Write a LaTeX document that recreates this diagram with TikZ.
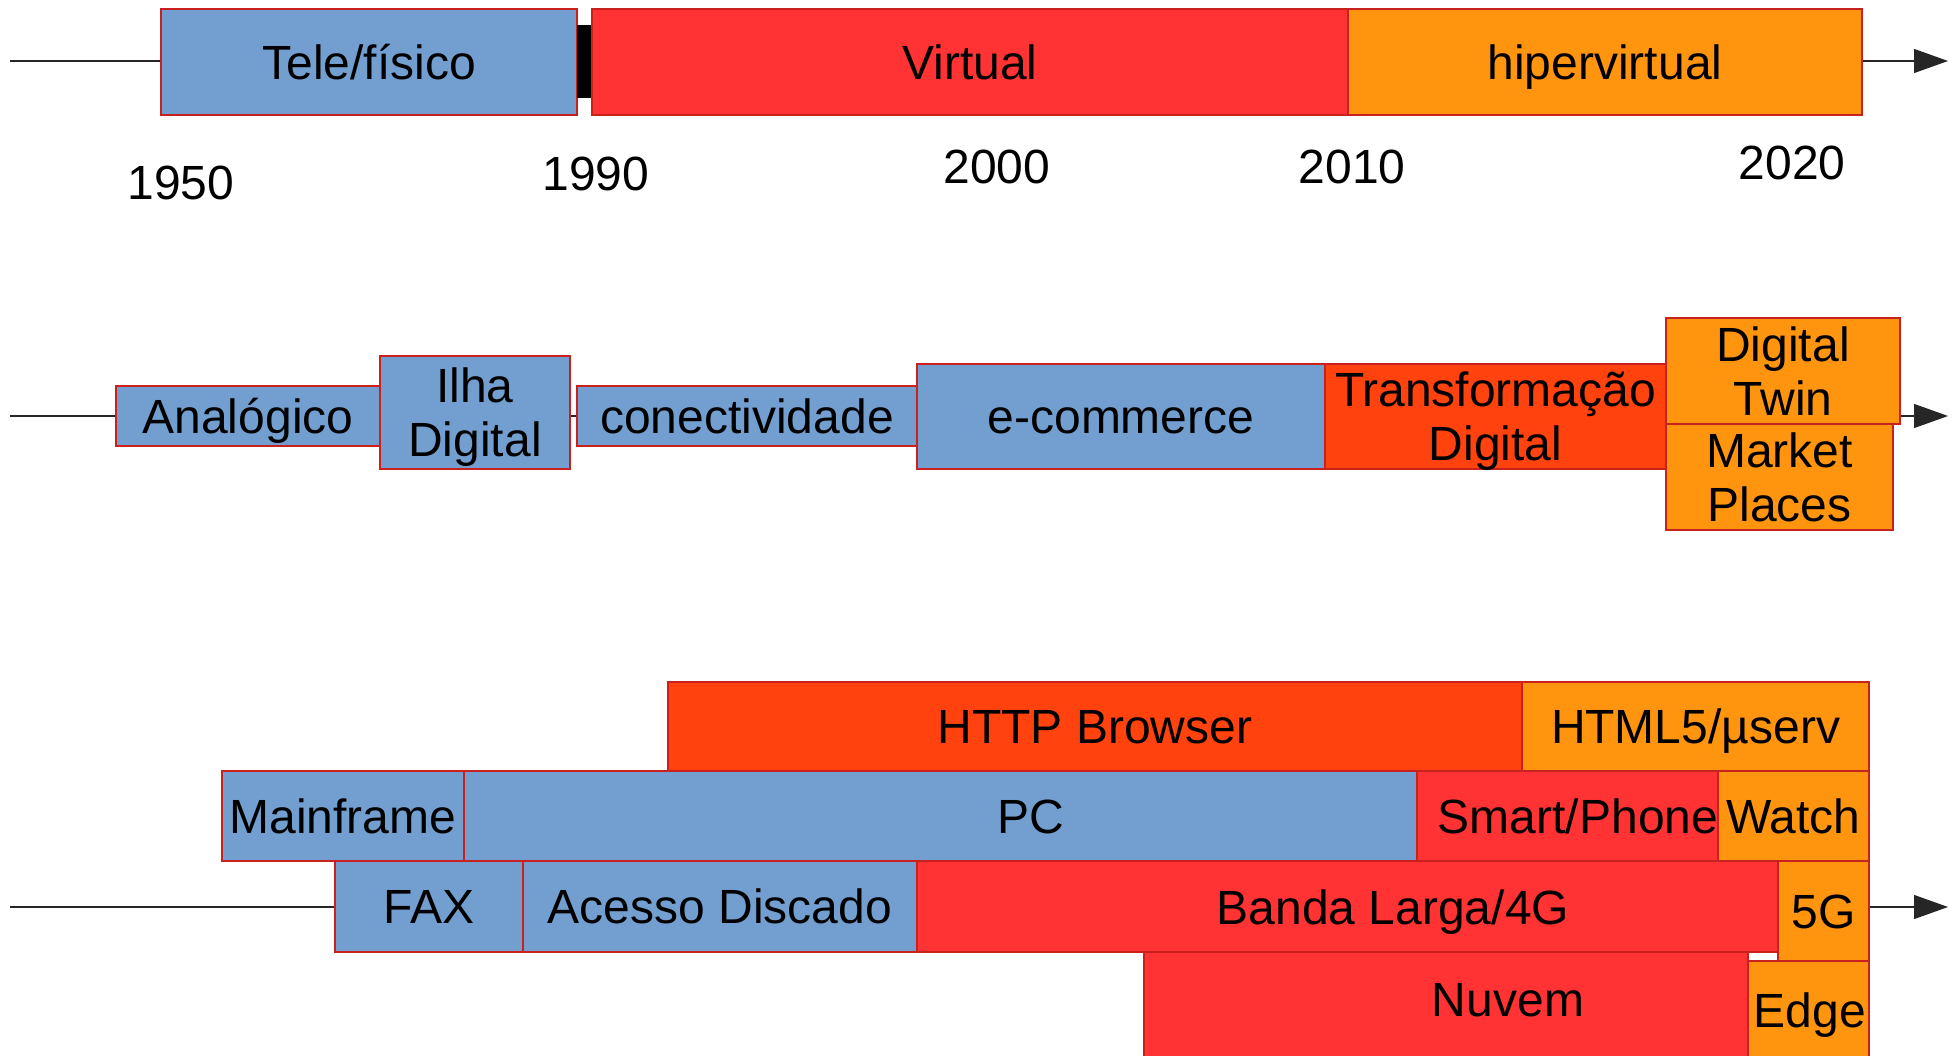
\documentclass[tikz,border=0pt]{standalone}
\usepackage{fontspec}
\setmainfont{Liberation Sans}
\usetikzlibrary{arrows.meta}
\definecolor{cblue}{HTML}{729FCF}
\definecolor{cred}{HTML}{FF3333}
\definecolor{corange}{HTML}{FF950E}
\definecolor{cdark}{HTML}{FF420E}
\definecolor{cborder}{HTML}{C9211E}
\newcommand\tstrut{\rule[-0.29em]{0pt}{1.29em}}
\tikzset{
  box/.style={draw=cborder, line width=1.2pt, inner sep=0pt, outer sep=0pt, anchor=north west},
  lbl/.style={inner sep=0pt, align=center, execute at begin node=\tstrut, execute at end node=\tstrut},
  twoline/.style={yshift=-7pt},
  axis/.style={draw=black!85, line width=1.2pt, -{Triangle[length=34pt,width=24pt]}}
}
% [label options] name, x1, y1, x2, y2, colour, text (centred in the box)
\newcommand\bx[8][]{\node[box, fill=#7, minimum width={(#5-#3)*1pt}, minimum height={(#6-#4)*1pt}] (#2) at (#3pt,-#4pt) {};
  \node[lbl,#1] (#2T) at (#2.center) {#8};}
% same box, text placed at given point
\newcommand\bxat[9]{\node[box, fill=#6, minimum width={(#4-#2)*1pt}, minimum height={(#5-#3)*1pt}] (#1) at (#2pt,-#3pt) {};
  \node[lbl] (#1T) at (#8pt,-#9pt) {#7};}
\begin{document}
\begin{tikzpicture}[x=1pt,y=1pt,font=\fontsize{48}{54}\selectfont]
\clip (0,0) rectangle (1954,-1056);
\fill[white] (0,0) rectangle (1954,-1056);
% axes
\coordinate (s1) at (10,-61);  \coordinate (e1) at (1948,-61);
\coordinate (s2) at (10,-416); \coordinate (e2) at (1948,-416);
\coordinate (s3) at (10,-907); \coordinate (e3) at (1948,-907);
\draw[axis] (s1) -- (e1);
\draw[axis] (s2) -- (e2);
\draw[axis] (s3) -- (e3);
% top row
\bx{tele}{161}{9}{577}{115}{cblue}{Tele/físico}
\fill[black] (577,-25) rectangle (592,-98);
\bx{virt}{592}{9}{1348}{115}{cred}{Virtual}
\bx{hiper}{1348}{9}{1862}{115}{corange}{hipervirtual}
\node[lbl] (y1950) at (181,-182) {1950};
\node[lbl] (y1990) at (596,-173) {1990};
\node[lbl] (y2000) at (997,-166) {2000};
\node[lbl] (y2010) at (1352,-166) {2010};
\node[lbl] (y2020) at (1792,-162) {2020};
% middle row
\bx{analog}{116}{386}{380}{446}{cblue}{Analógico}
\bx[twoline]{ilha}{380}{356}{570}{469}{cblue}{Ilha\\Digital}
\bx{conect}{577}{386}{917}{446}{cblue}{conectividade}
\bx{ecom}{917}{364}{1325}{469}{cblue}{e-commerce}
\bx[twoline]{transf}{1325}{364}{1666}{469}{cdark}{Transformação\\Digital}
\bx[twoline]{market}{1666}{424}{1893}{530}{corange}{Market\\Places}
\bx[twoline]{twin}{1666}{318}{1900}{424}{corange}{Digital\\Twin}
% bottom row
\bx{http}{668}{682}{1522}{771}{cdark}{HTTP Browser}
\bx{html}{1522}{682}{1869}{771}{corange}{HTML5/µserv}
\bx{mainf}{222}{771}{464}{861}{cblue}{Mainframe}
\bxat{pc}{464}{771}{1417}{861}{cblue}{PC}{1031}{816}
\bxat{smart}{1417}{771}{1718}{861}{cred}{Smart/Phone}{1578}{816}
\bx{watch}{1718}{771}{1869}{861}{corange}{Watch}
\bx{fax}{335}{861}{523}{952}{cblue}{FAX}
\bx{acesso}{523}{861}{917}{952}{cblue}{Acesso Discado}
\bxat{nuvem}{1144}{952}{1748}{1080}{cred}{Nuvem}{1508}{999}
\bxat{banda}{917}{861}{1778}{952}{cred}{Banda Larga/4G}{1393}{907}
\bxat{edge}{1748}{961}{1869}{1080}{corange}{Edge}{1810}{1010}
\bx{fiveg}{1778}{861}{1869}{961}{corange}{5G}
\end{tikzpicture}
\end{document}
